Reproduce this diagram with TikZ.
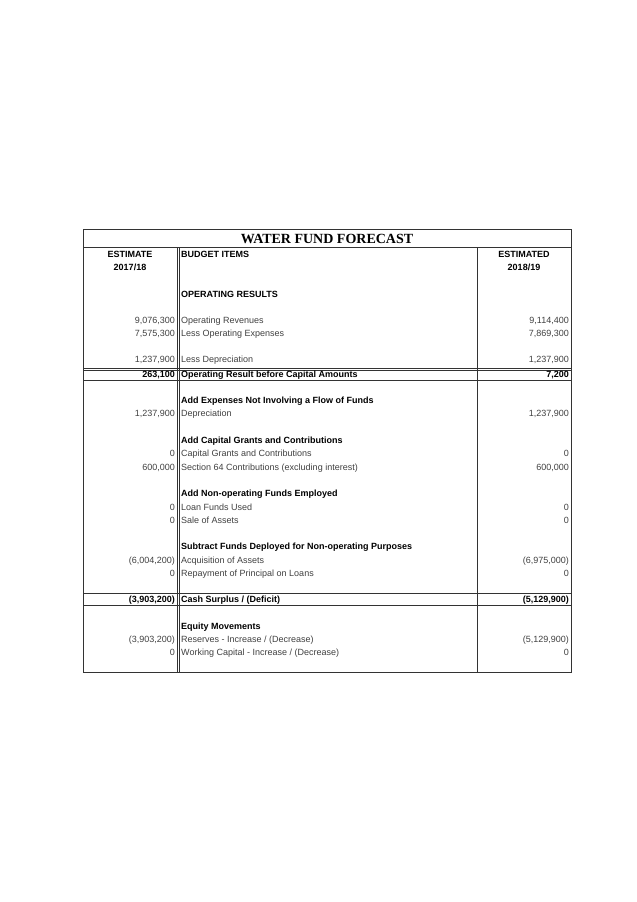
\documentclass[tikz,border=0pt]{standalone}
\usepackage{fontspec}
\setmainfont{Liberation Sans}
\newfontfamily\titlefont{Liberation Serif}
\usetikzlibrary{positioning}
\tikzset{
  num/.style={anchor=base east,inner sep=0pt,font=\fontsize{9}{10}\selectfont\color{black!75}},
  item/.style={anchor=base west,inner sep=0pt,font=\fontsize{9}{10}\selectfont\color{black!75}},
  bnum/.style={num,font=\fontsize{9}{10}\selectfont\bfseries},
  bitem/.style={item,font=\fontsize{9}{10}\selectfont\bfseries},
  head/.style={anchor=base,inner sep=0pt,font=\fontsize{9}{10}\selectfont\bfseries},
  rule/.style={line width=0.8pt,black!80}
}
\begin{document}
\begin{tikzpicture}[x=1pt,y=-1pt]
		\useasboundingbox (0,0) rectangle (637,902);
		% frame and columns
		\draw[rule] (83,229) rectangle (571,672);
		\draw[rule] (83,247) -- (571,247);
		\draw[rule] (177,247) -- (177,672); \draw[rule] (179.5,247) -- (179.5,672);
		\draw[rule] (477,247) -- (477,672);
		\draw[rule] (83,368) -- (571,368); \draw[rule] (83,370.5) -- (571,370.5);
		\draw[rule] (83,380) -- (571,380);
		\draw[rule] (83,593) -- (571,593); \draw[rule] (83,605) -- (571,605);
		\node[anchor=base,inner sep=0pt,font=\titlefont\fontsize{14}{15}\selectfont\bfseries] (title) at (327,243) {WATER FUND FORECAST};
		% header
		\node[head] (h1) at (130,257) {ESTIMATE};
		\node[head] (h2) at (130,270) {2017/18};
		\node[head,anchor=base west] (h3) at (181,257) {BUDGET ITEMS};
		\node[head] (h4) at (524,257) {ESTIMATED};
		\node[head] (h5) at (524,270) {2018/19};
		% section headings
		\foreach \y/\t [count=\i] in {297/{OPERATING RESULTS},403/{Add Expenses Not Involving a Flow of Funds},443/{Add Capital Grants and Contributions},496/{Add Non-operating Funds Employed},549/{Subtract Funds Deployed for Non-operating Purposes},629/{Equity Movements}}
			\node[bitem] (sec\i) at (181,\y) {\t};
		% rows
		\foreach \y/\a/\t/\b [count=\i] in {
			323/{9,076,300}/{Operating Revenues}/{9,114,400},
			336/{7,575,300}/{Less Operating Expenses}/{7,869,300},
			362/{1,237,900}/{Less Depreciation}/{1,237,900},
			416/{1,237,900}/{Depreciation}/{1,237,900},
			456/0/{Capital Grants and Contributions}/0,
			470/{600,000}/{Section 64 Contributions (excluding interest)}/{600,000},
			510/0/{Loan Funds Used}/0,
			523/0/{Sale of Assets}/0,
			563/{(6,004,200)}/{Acquisition of Assets}/{(6,975,000)},
			576/0/{Repayment of Principal on Loans}/0,
			642/{(3,903,200)}/{Reserves - Increase / (Decrease)}/{(5,129,900)},
			655/0/{Working Capital - Increase / (Decrease)}/0}{
			\node[num] (a\i) at (175,\y) {\a};
			\node[item] (t\i) at (181,\y) {\t};
			\node[num] (b\i) at (569,\y) {\b};
		}
		% totals
		\node[bnum] (ta1) at (175,377) {263,100};
		\node[bitem] (tt1) at (181,377) {Operating Result before Capital Amounts};
		\node[bnum] (tb1) at (569,377) {7,200};
		\node[bnum] (ta2) at (175,602) {(3,903,200)};
		\node[bitem] (tt2) at (181,602) {Cash Surplus / (Deficit)};
		\node[bnum] (tb2) at (569,602) {(5,129,900)};
\end{tikzpicture}
\end{document}
